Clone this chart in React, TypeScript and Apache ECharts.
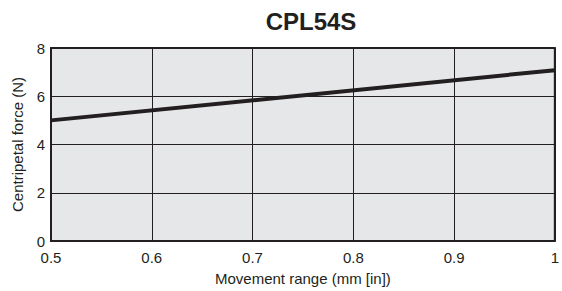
import React, { useEffect, useRef } from "react";
import * as echarts from "echarts";

const title = "CPL54S";
const xName = "Movement range (mm [in])";
const yName = "Centripetal force (N)";
const xValues = [0.5, 1.0];
const yValues = [5.0, 7.08];

export default function App() {
  const ref = useRef<HTMLDivElement>(null);
  useEffect(() => {
    if (!ref.current) return;
    const chart = echarts.init(ref.current, undefined, { renderer: "svg" });
    const font = "'Liberation Sans', Arial, sans-serif";
    chart.setOption({
      animation: false,
      backgroundColor: "#ffffff",
      title: {
        text: title,
        left: 306,
        textAlign: "center",
        top: 4,
        textStyle: { fontFamily: font, fontWeight: "bold", fontSize: 24, color: "#231f20" },
      },
      grid: {
        left: 51,
        right: 4,
        top: 48,
        bottom: 46,
        show: true,
        backgroundColor: "#e6e7e8",
        borderColor: "#231f20",
        borderWidth: 2,
      },
      xAxis: {
        type: "value",
        min: 0.5,
        max: 1,
        interval: 0.1,
        name: xName,
        nameLocation: "middle",
        nameGap: 30,
        nameTextStyle: { fontFamily: font, fontSize: 15, color: "#231f20" },
        axisLine: { show: false },
        axisTick: { show: false },
        axisLabel: {
          fontFamily: font,
          fontSize: 15,
          color: "#231f20",
          margin: 9,
          formatter: (v: number) => (v === 1 ? "1" : v.toFixed(1)),
        },
        splitLine: { show: true, lineStyle: { color: "#231f20", width: 1 } },
      },
      yAxis: {
        type: "value",
        min: 0,
        max: 8,
        interval: 2,
        name: yName,
        nameLocation: "middle",
        nameGap: 26,
        nameTextStyle: { fontFamily: font, fontSize: 15, color: "#231f20" },
        axisLine: { show: false },
        axisTick: { show: false },
        axisLabel: { fontFamily: font, fontSize: 15, color: "#231f20", margin: 6 },
        splitLine: { show: true, lineStyle: { color: "#231f20", width: 1 } },
      },
      series: [
        {
          type: "line",
          data: xValues.map((x, i) => [x, yValues[i]]),
          symbol: "none",
          lineStyle: { color: "#231f20", width: 4 },
        },
      ],
    });
    return () => chart.dispose();
  }, []);
  return <div ref={ref} style={{ width: 562, height: 291, position: "absolute", left: 0, top: 0 }} />;
}
